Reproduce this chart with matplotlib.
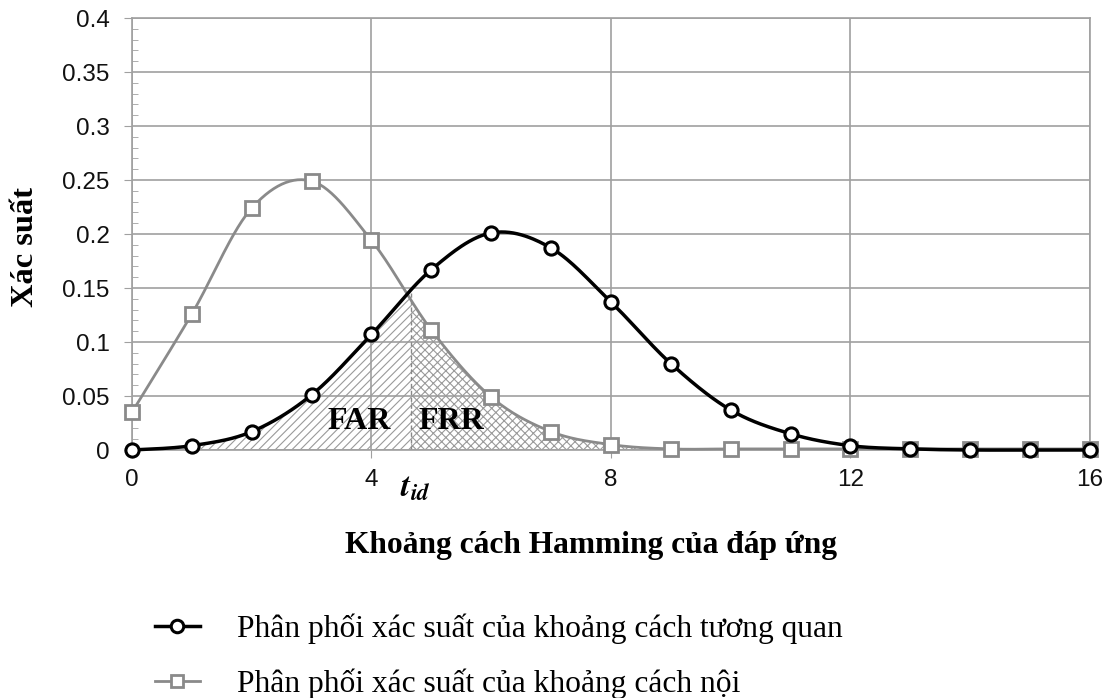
import numpy as np
import matplotlib.pyplot as plt
from matplotlib.lines import Line2D
from matplotlib.ticker import MultipleLocator

# Hamming distance axis and the two distributions
dist = np.arange(0, 17)
p_inter = [0.0, 0.004, 0.017, 0.051, 0.107, 0.167, 0.201, 0.187, 0.137,
           0.080, 0.037, 0.015, 0.004, 0.001, 0.0, 0.0, 0.0]
p_intra = [0.035, 0.126, 0.224, 0.249, 0.194, 0.111, 0.049, 0.017, 0.005,
           0.001, 0.001, 0.001, 0.001, 0.001, 0.001, 0.001, 0.001]
t_id = 4.66

label_inter = "Phân phối xác suất của khoảng cách tương quan"
label_intra = "Phân phối xác suất của khoảng cách nội"
xlabel = "Khoảng cách Hamming của đáp ứng"
ylabel = "Xác suất"

gray = "#8a8a8a"
grid_gray = "#a0a0a0"
serif = "Liberation Serif"

plt.rcParams['mathtext.fontset'] = 'stix'
plt.rcParams['hatch.linewidth'] = 0.8


def smooth(x, y, n=30):
    # Catmull-Rom style bezier smoothing (like spreadsheet "smoothed line")
    x = np.asarray(x, float)
    y = np.asarray(y, float)
    px = np.concatenate(([x[0]], x, [x[-1]]))
    py = np.concatenate(([y[0]], y, [y[-1]]))
    xs, ys = [], []
    t = np.linspace(0, 1, n, endpoint=False)
    for i in range(1, len(px) - 2):
        p0 = np.array([px[i], py[i]])
        p3 = np.array([px[i + 1], py[i + 1]])
        p1 = p0 + (np.array([px[i + 1], py[i + 1]]) - np.array([px[i - 1], py[i - 1]])) / 6
        p2 = p3 - (np.array([px[i + 2], py[i + 2]]) - np.array([px[i], py[i]])) / 6
        b = ((1 - t) ** 3)[:, None] * p0 + (3 * (1 - t) ** 2 * t)[:, None] * p1 \
            + (3 * (1 - t) * t ** 2)[:, None] * p2 + (t ** 3)[:, None] * p3
        xs.append(b[:, 0])
        ys.append(b[:, 1])
    xs.append([x[-1]])
    ys.append([y[-1]])
    return np.concatenate(xs), np.concatenate(ys)


fig = plt.figure(figsize=(11.11, 6.98), dpi=100)
ax = fig.add_axes([0.1188, 0.3553, 0.8623, 0.6189])

sx1, sy1 = smooth(dist, p_inter)
sx2, sy2 = smooth(dist, p_intra)
y_cut = np.interp(t_id, sx1, sy1)

# hatched regions: FAR under the inter curve left of t_id, FRR under intra right of t_id
far = sx1 <= t_id
ax.fill_between(np.append(sx1[far], t_id), 0, np.append(sy1[far], y_cut),
                facecolor="none", edgecolor="#9a9a9a", hatch="////", linewidth=0, zorder=1)
frr = sx2 >= t_id
fx = np.concatenate(([t_id], sx2[frr]))
fy = np.concatenate(([np.interp(t_id, sx2, sy2)], sy2[frr]))
ax.fill_between(fx, 0, fy, facecolor="none", edgecolor="#9a9a9a",
                hatch="xxxx", linewidth=0, zorder=1)
ax.plot([t_id, t_id], [0, y_cut], ls=(0, (3, 2)), color="#888888", lw=1, zorder=2)

ax.plot(sx2, sy2, color=gray, lw=2, zorder=3, clip_on=False)
ax.plot(dist, p_intra, ls="none", marker="s", ms=9.5, mfc="white", mec=gray,
        mew=2, zorder=4, clip_on=False)
ax.plot(sx1, sy1, color="black", lw=2.5, zorder=5, clip_on=False)
ax.plot(dist, p_inter, ls="none", marker="o", ms=9.5, mfc="white", mec="black",
        mew=2.2, zorder=6, clip_on=False)

ax.text(3.27, 0.026, "FAR", family=serif, weight="bold",
        fontsize=23, ha="left", va="center", zorder=7)
ax.text(4.78, 0.026, "FRR", family=serif, weight="bold",
        fontsize=23, ha="left", va="center", zorder=7)

ax.set_xlim(0, 16)
ax.set_ylim(0, 0.4)
ax.xaxis.set_major_locator(MultipleLocator(4))
ax.yaxis.set_minor_locator(MultipleLocator(0.01))
ax.set_yticks(np.arange(0, 0.401, 0.05))
ax.set_yticklabels(["0", "0.05", "0.1", "0.15", "0.2", "0.25", "0.3", "0.35", "0.4"])
for lab in ax.get_xticklabels() + ax.get_yticklabels():
    lab.set_family("Liberation Sans")
ax.grid(True, which="major", color=grid_gray, lw=1.2)
ax.set_axisbelow(True)
for s in ax.spines.values():
    s.set_color(grid_gray)
    s.set_linewidth(1.2)
ax.tick_params(which="major", direction="out", length=6, color=grid_gray,
               labelsize=17.5, labelcolor="#111111")
ax.tick_params(axis="y", which="major", pad=10)
ax.tick_params(axis="x", which="major", pad=8)
ax.tick_params(axis="y", which="minor", direction="in", length=4, color=grid_gray)

# threshold label under the axis
ax.text(t_id + 0.08, -0.019, r"$\mathbfit{t}_{\mathbfit{id}}$", fontsize=24,
        ha="center", va="top")

fig.text(0.532, 0.218, xlabel, family=serif, weight="bold",
         fontsize=22.7, ha="center", va="center")
fig.text(0.023, 0.646, ylabel, family=serif, weight="bold",
         fontsize=23.4, ha="center", va="center", rotation=90)

handles = [
    Line2D([], [], color="black", lw=2.5, marker="o", ms=9, mfc="white", mec="black", mew=2.2),
    Line2D([], [], color=gray, lw=2, marker="s", ms=9, mfc="white", mec=gray, mew=2),
]
fig.legend(handles, [label_inter, label_intra], loc="upper left",
           bbox_to_anchor=(0.128, 0.139), frameon=False,
           prop={"family": serif, "size": 22.7}, borderaxespad=0,
           handlelength=1.43, handletextpad=1.17, labelspacing=0.78,
           bbox_transform=fig.transFigure)

fig.savefig("out.png", dpi=100)
